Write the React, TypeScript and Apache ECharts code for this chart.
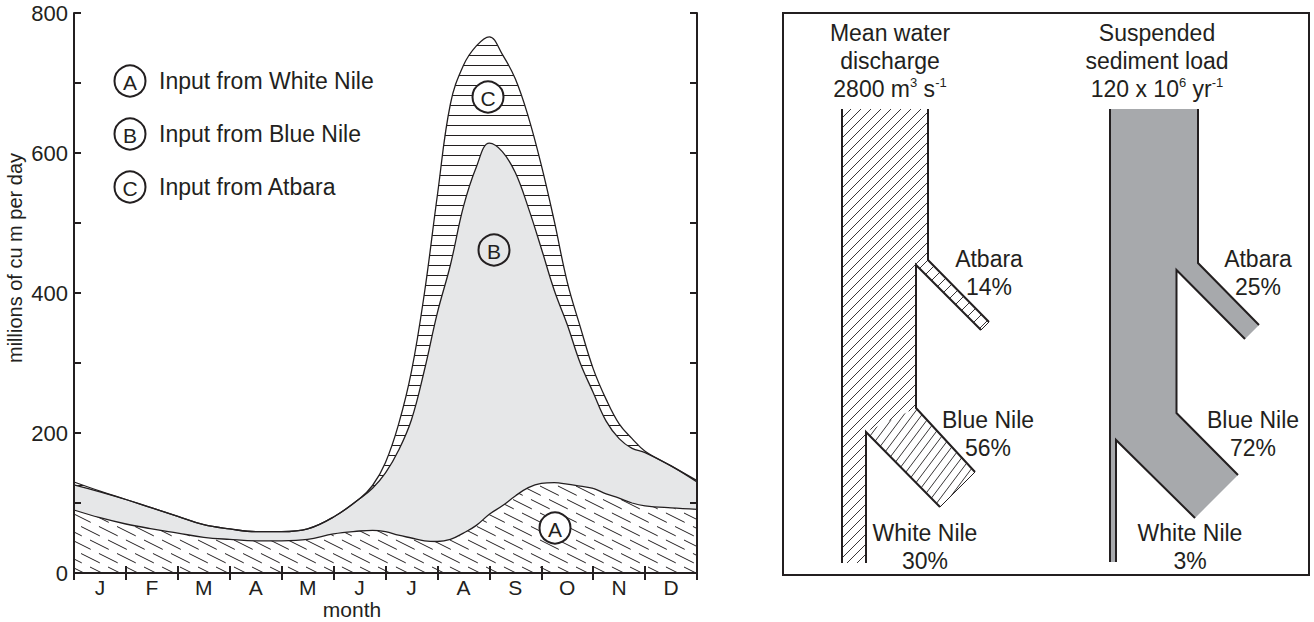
import React, { useEffect, useRef } from 'react';
import * as echarts from 'echarts';

const INK = '#231f20';
const FONT = '"Liberation Sans", Arial, Helvetica, sans-serif';

// ---- data ----
const monthLabels = ['J', 'F', 'M', 'A', 'M', 'J', 'J', 'A', 'S', 'O', 'N', 'D'];
// position in months from 1 January
const monthPos = [0, 0.5, 1, 1.5, 2, 2.5, 3, 3.5, 4, 4.5, 5, 5.5, 5.75, 6, 6.25, 6.5, 6.75, 7, 7.25, 7.5, 7.75, 8,
  8.25, 8.5, 8.75, 9, 9.25, 9.5, 9.75, 10, 10.25, 10.5, 10.75, 11, 11.5, 12];
// top of White Nile band (A)
const whiteNileTop = [90, 79, 70, 63, 57, 51, 48, 46, 46, 48, 56, 60, 61, 59, 54, 50, 46, 45, 48, 57, 68, 84,
  96, 110, 122, 128, 129, 127, 124, 121, 113, 107, 100, 96, 93, 91];
// top of Blue Nile band (A + B)
const blueNileTop = [126, 116, 105, 93, 81, 69, 63, 59, 59, 63, 80, 106, 121, 143, 175, 219, 290, 372, 440, 523, 580, 614,
  602, 572, 522, 464, 404, 355, 300, 258, 217, 192, 178, 172, 153, 130];
// top of Atbara band = total flow (A + B + C)
const totalTop = [130, 117, 105, 93, 81, 69, 63, 59, 59, 63, 80, 106, 125, 158, 212, 288, 400, 540, 670, 725, 753, 766,
  741, 706, 652, 583, 503, 416, 352, 292, 248, 213, 192, 174, 153, 132];

const legendItems = [
  { letter: 'A', text: 'Input from White Nile' },
  { letter: 'B', text: 'Input from Blue Nile' },
  { letter: 'C', text: 'Input from Atbara' },
];

const discharge = { title: ['Mean water', 'discharge'], total: '2800 m{sup|3} s{sup|-1}', atbara: '14%', blue: '56%', white: '30%' };
const sediment = { title: ['Suspended', 'sediment load'], total: '120 x 10{sup|6} yr{sup|-1}', atbara: '25%', blue: '72%', white: '3%' };

function makeCanvas(w: number, h: number, draw: (ctx: CanvasRenderingContext2D) => void) {
  const c = document.createElement('canvas');
  c.width = w;
  c.height = h;
  const ctx = c.getContext('2d') as CanvasRenderingContext2D;
  ctx.fillStyle = '#ffffff';
  ctx.fillRect(0, 0, w, h);
  ctx.strokeStyle = INK;
  ctx.lineWidth = 1;
  draw(ctx);
  return c;
}
function pat(c: HTMLCanvasElement) {
  return { image: c, repeat: 'repeat', imageWidth: c.width, imageHeight: c.height } as any;
}
function dashedDiag() {
  const W = 54, H = 27;
  return makeCanvas(W, H, (ctx) => {
    ctx.setLineDash([21, 9.2]);
    [0, 9, 18].forEach((c, i) => {
      for (let k = -2; k <= 2; k++) {
        ctx.lineDashOffset = -i * 10;
        ctx.beginPath();
        const x0 = -108, x1 = 162;
        ctx.moveTo(x0, 0.5 * x0 + c + k * H);
        ctx.lineTo(x1, 0.5 * x1 + c + k * H);
        ctx.stroke();
      }
    });
  });
}
function horiz() {
  return makeCanvas(10, 10, (ctx) => {
    ctx.beginPath();
    ctx.moveTo(0, 5.5);
    ctx.lineTo(10, 5.5);
    ctx.stroke();
  });
}
function slash(W: number, H: number) {
  return makeCanvas(W, H, (ctx) => {
    ctx.lineWidth = 0.9;
    for (const dx of [-W, 0, W]) {
      ctx.beginPath();
      ctx.moveTo(W + dx, 0);
      ctx.lineTo(dx, H);
      ctx.stroke();
    }
  });
}

function txt(text: string, x: number, y: number, size = 23, align = 'center', extra: any = {}) {
  return {
    type: 'text', x, y, z: 100,
    style: {
      text, fontSize: size, fontFamily: FONT, fill: INK,
      textAlign: align, align, textVerticalAlign: 'middle', verticalAlign: 'middle', ...extra,
    },
  };
}
function richTxt(text: string, x: number, y: number) {
  return {
    type: 'text', x, y, z: 100,
    style: {
      text, fontSize: 23, fontFamily: FONT, fill: INK, lineHeight: 27,
      textAlign: 'center', align: 'center', textVerticalAlign: 'middle', verticalAlign: 'middle',
      rich: { sup: { fontSize: 13, fontFamily: FONT, fill: INK, verticalAlign: 'top', lineHeight: 13 } },
    },
  };
}
function circled(letter: string, cx: number, cy: number, fill: string) {
  return [
    { type: 'circle', z: 100, shape: { cx, cy, r: 15.5 }, style: { fill, stroke: INK, lineWidth: 2 } },
    txt(letter, cx, cy + 1, 21),
  ];
}
function pline(points: number[][], w = 2) {
  return { type: 'polyline', z: 100, shape: { points }, style: { stroke: INK, lineWidth: w, fill: null } };
}
function poly(points: number[][], fill: any) {
  return { type: 'polygon', z: 99, shape: { points }, style: { fill, stroke: null, lineWidth: 0 } };
}

export default function App() {
  const ref = useRef<HTMLDivElement>(null);
  useEffect(() => {
    if (!ref.current) return;
    const chart = echarts.init(ref.current, null, { renderer: 'svg' });
    const patA = pat(dashedDiag());
    const patC = pat(horiz());
    const patMain = pat(slash(10, 10));
    const patBlue = pat(slash(9, 12));
    const patAtb = pat(slash(12, 12));

    const toPairs = (vals: number[]) => monthPos.map((t, i) => [t, vals[i]]);
    const lineSeries = (name: string, vals: number[], fill: any) => ({
      name, type: 'line', xAxisIndex: 2, yAxisIndex: 0, data: toPairs(vals),
      smooth: 0.4, symbol: 'none', silent: true,
      lineStyle: { color: INK, width: 1.3 }, areaStyle: { color: fill, opacity: 1 },
    });

    const axisCommon = {
      axisLine: { show: true, lineStyle: { color: INK, width: 2 } },
      axisTick: { show: true, inside: true, length: 7, lineStyle: { color: INK, width: 2 } },
      splitLine: { show: false },
      z: 10,
    };

    const graphics: any[] = [];
    // legend
    const legendY = [81, 134, 187];
    legendItems.forEach((it, i) => {
      graphics.push(...circled(it.letter, 130, legendY[i], '#ffffff'));
      graphics.push(txt(it.text, 159, legendY[i], 23, 'left'));
    });
    // in-plot labels
    graphics.push(...circled('C', 488, 97, '#ffffff'));
    graphics.push(...circled('B', 494, 250, '#e6e7e8'));
    graphics.push(...circled('A', 555, 528, '#ffffff'));
    // axis titles
    graphics.push({ ...txt('millions of cu m per day', 15, 258, 20), rotation: Math.PI / 2 });
    graphics.push(txt('month', 352, 609, 21));

    // right panel frame
    graphics.push({ type: 'rect', z: 100, shape: { x: 783, y: 13, width: 526, height: 562 }, style: { fill: null, stroke: INK, lineWidth: 2 } });

    // discharge diagram
    graphics.push(poly([[842, 109], [928, 109], [928, 260], [916, 266], [916, 408], [866, 432], [866, 563], [842, 563]], patMain));
    graphics.push(poly([[928, 260], [989, 322], [981, 330], [916, 266]], patAtb));
    graphics.push(poly([[916, 408], [975, 472], [940, 507], [866, 432]], patBlue));
    graphics.push(pline([[842, 109], [842, 563]]));
    graphics.push(pline([[928, 109], [928, 260], [989, 322]]));
    graphics.push(pline([[981, 330], [916, 265], [916, 408], [975, 472]]));
    graphics.push(pline([[940, 507], [866, 432], [866, 563]]));
    graphics.push(pline([[989, 322], [981, 330]], 1));
    graphics.push(pline([[975, 472], [940, 507]], 1));
    graphics.push(txt(discharge.title[0], 890, 33));
    graphics.push(txt(discharge.title[1], 890, 61));
    graphics.push(richTxt(discharge.total, 890, 89));
    graphics.push(txt('Atbara', 989, 259));
    graphics.push(txt(discharge.atbara, 989, 287));
    graphics.push(txt('Blue Nile', 988, 420));
    graphics.push(txt(discharge.blue, 988, 448));
    graphics.push(txt('White Nile', 925, 533));
    graphics.push(txt(discharge.white, 925, 561));

    // sediment diagram
    graphics.push(poly([[1110, 109], [1198, 109], [1198, 263], [1259, 325], [1245, 339], [1176.5, 270], [1176.5, 413],
      [1238, 475], [1195, 518], [1116, 440], [1116, 562], [1110, 562]], '#a7a9ac'));
    graphics.push(pline([[1110, 109], [1110, 562]]));
    graphics.push(pline([[1198, 109], [1198, 263], [1259, 325]]));
    graphics.push(pline([[1245, 339], [1176.5, 270], [1176.5, 413], [1238, 475]]));
    graphics.push(pline([[1195, 518], [1116, 440], [1116, 562]]));
    graphics.push(txt(sediment.title[0], 1157, 33));
    graphics.push(txt(sediment.title[1], 1157, 61));
    graphics.push(richTxt(sediment.total, 1157, 89));
    graphics.push(txt('Atbara', 1258, 259));
    graphics.push(txt(sediment.atbara, 1258, 287));
    graphics.push(txt('Blue Nile', 1253, 420));
    graphics.push(txt(sediment.blue, 1253, 448));
    graphics.push(txt('White Nile', 1190, 533));
    graphics.push(txt(sediment.white, 1190, 561));

    chart.setOption({
      animation: false,
      backgroundColor: '#ffffff',
      textStyle: { fontFamily: FONT, color: INK },
      grid: { left: 74, top: 13, width: 623, height: 560, containLabel: false },
      xAxis: [
        {
          type: 'category', data: monthLabels, position: 'bottom', boundaryGap: true, ...axisCommon,
          axisLabel: { color: INK, fontSize: 21, fontFamily: FONT, margin: 4, lineHeight: 21 },
        },
        {
          type: 'category', data: monthLabels, position: 'top', boundaryGap: true, ...axisCommon,
          axisLabel: { show: false },
        },
        { type: 'value', min: 0, max: 12, show: false },
      ],
      yAxis: [
        {
          type: 'value', min: 0, max: 800, interval: 100, position: 'left', ...axisCommon,
          axisLabel: {
            color: INK, fontSize: 22, fontFamily: FONT, margin: 6,
            formatter: (v: number) => (v % 200 === 0 ? String(v) : ''),
          },
        },
        {
          type: 'value', min: 0, max: 800, interval: 100, position: 'right', ...axisCommon,
          axisLabel: { show: false },
        },
      ],
      series: [
        lineSeries('Atbara', totalTop, patC),
        lineSeries('Blue Nile', blueNileTop, '#e6e7e8'),
        lineSeries('White Nile', whiteNileTop, patA),
      ],
      graphic: { elements: graphics },
    });
    return () => chart.dispose();
  }, []);
  return <div ref={ref} style={{ position: 'absolute', left: 0, top: 0, width: 1314, height: 622 }} />;
}
